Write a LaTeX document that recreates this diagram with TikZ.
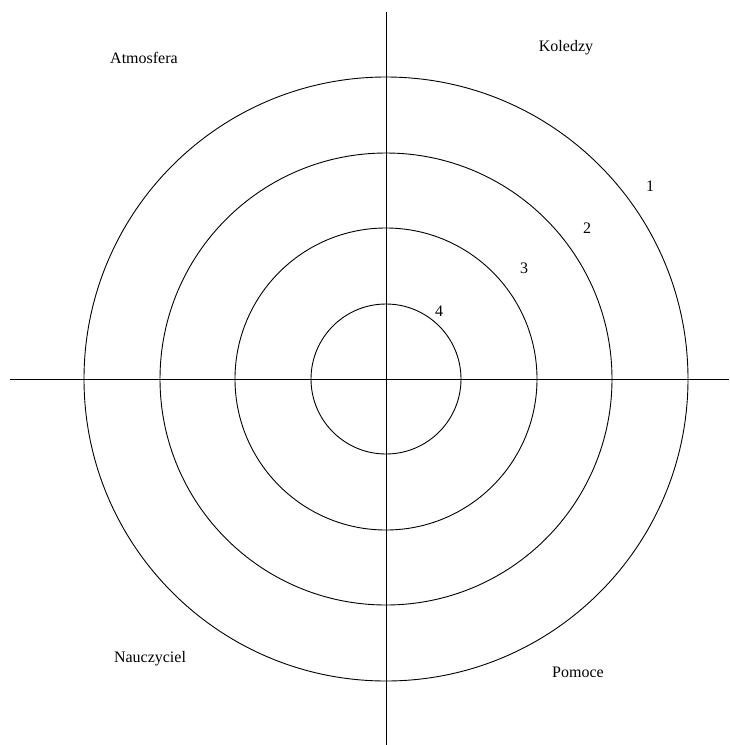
\documentclass[tikz,border=0pt]{standalone}
\usepackage{fontspec}
\setmainfont{Liberation Serif}
\usepackage{tikz}
\usetikzlibrary{positioning}

\begin{document}
\begin{tikzpicture}[
  x=1pt, y=-1pt,
  ring/.style={draw, line width=0.9pt},
  axis/.style={draw, line width=1pt},
  area/.style={font=\fontsize{16}{18}\selectfont, inner sep=0pt},
  level/.style={font=\fontsize{16}{18}\selectfont, inner sep=0pt}
]
  \useasboundingbox (0,0) rectangle (729,745);

  \coordinate (c) at (386,379);
  \coordinate (top) at (386,12);
  \coordinate (bot) at (386,745);
  \coordinate (lft) at (10,379);
  \coordinate (rgt) at (729,379);

  % rings
  \foreach \r in {75,151,226,302}
    \draw[ring] (c) circle (\r);

  % axes
  \draw[axis] (top) -- (bot);
  \draw[axis] (lft) -- (rgt);

  % labels of the quarters
  \node[area] (atm) at (144,58) {Atmosfera};
  \node[area] (kol) at (566,48) {Koledzy};
  \node[area] (nau) at (150,659) {Nauczyciel};
  \node[area] (pom) at (578,672) {Pomoce};

  % ring numbers
  \node[level] (n1) at (650,186) {1};
  \node[level] (n2) at (587,228) {2};
  \node[level] (n3) at (524,268) {3};
  \node[level] (n4) at (439,311) {4};
\end{tikzpicture}
\end{document}
